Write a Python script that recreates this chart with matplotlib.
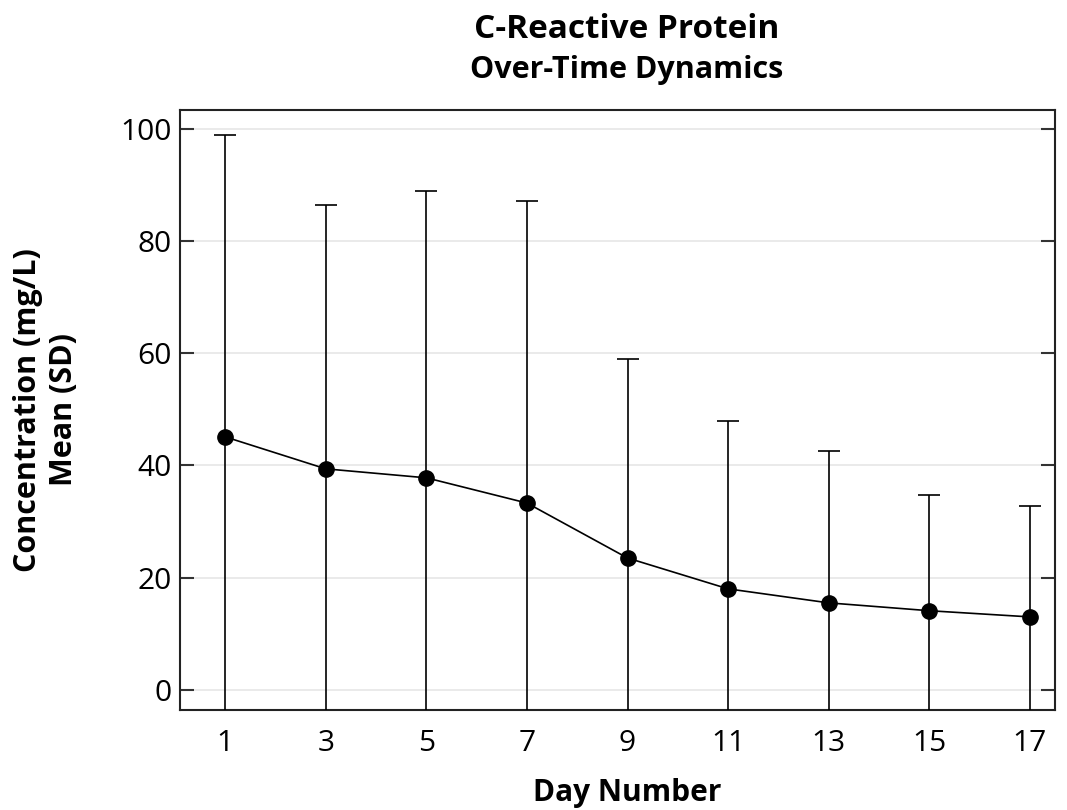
import matplotlib.pyplot as plt

plt.rcParams['font.family'] = ['Open Sans', 'DejaVu Sans']

days = [1, 3, 5, 7, 9, 11, 13, 15, 17]
mean_crp = [45.1, 39.4, 37.8, 33.3, 23.5, 18.0, 15.5, 14.1, 13.0]
upper_crp = [98.9, 86.5, 88.9, 87.2, 59.0, 48.0, 42.5, 34.8, 32.7]
sd_crp = [u - m for u, m in zip(upper_crp, mean_crp)]

fig = plt.figure(figsize=(10.67, 8.1), dpi=100)
ax = fig.add_axes([0.1687, 0.1235, 0.82, 0.7407])

ax.errorbar(days, mean_crp, yerr=sd_crp, color='black', fmt='-o',
            markersize=11, linewidth=1.2, elinewidth=1.2, capsize=8,
            capthick=1.2, zorder=3)

ax.set_xlim(0.1, 17.5)
ax.set_ylim(-3.6, 103.4)
ax.set_xticks(days)
ax.set_yticks([0, 20, 40, 60, 80, 100])
ax.grid(axis='y', color='#e6e6e6', linewidth=1.2)
ax.set_axisbelow(True)
ax.tick_params(axis='y', direction='in', length=10, width=1.5,
               color='#333333', left=True, right=True, labelsize=21.5, pad=6)
ax.tick_params(axis='x', length=0, labelsize=21.5, pad=14)
for s in ax.spines.values():
    s.set_linewidth(1.5)
    s.set_color('#222222')

# titles and axis labels placed in figure coords to follow the reference
cx = 627 / 1067
fig.text(cx, 1 - 793 / 810, 'Day Number', ha='center', va='center',
         fontsize=21.5, fontweight='bold')
fig.text(28 / 1067, 1 - 410 / 810, 'Concentration (mg/L)', rotation=90,
         ha='center', va='center', fontsize=22, fontweight='bold')
fig.text(64 / 1067, 1 - 410 / 810, 'Mean (SD)', rotation=90,
         ha='center', va='center', fontsize=22, fontweight='bold')
fig.text(cx, 1 - 30 / 810, 'C-Reactive Protein', ha='center',
         va='center', fontsize=24, fontweight='bold')
fig.text(cx, 1 - 70 / 810, 'Over-Time Dynamics', ha='center',
         va='center', fontsize=22, fontweight='bold')

plt.savefig('out.png', dpi=100)
